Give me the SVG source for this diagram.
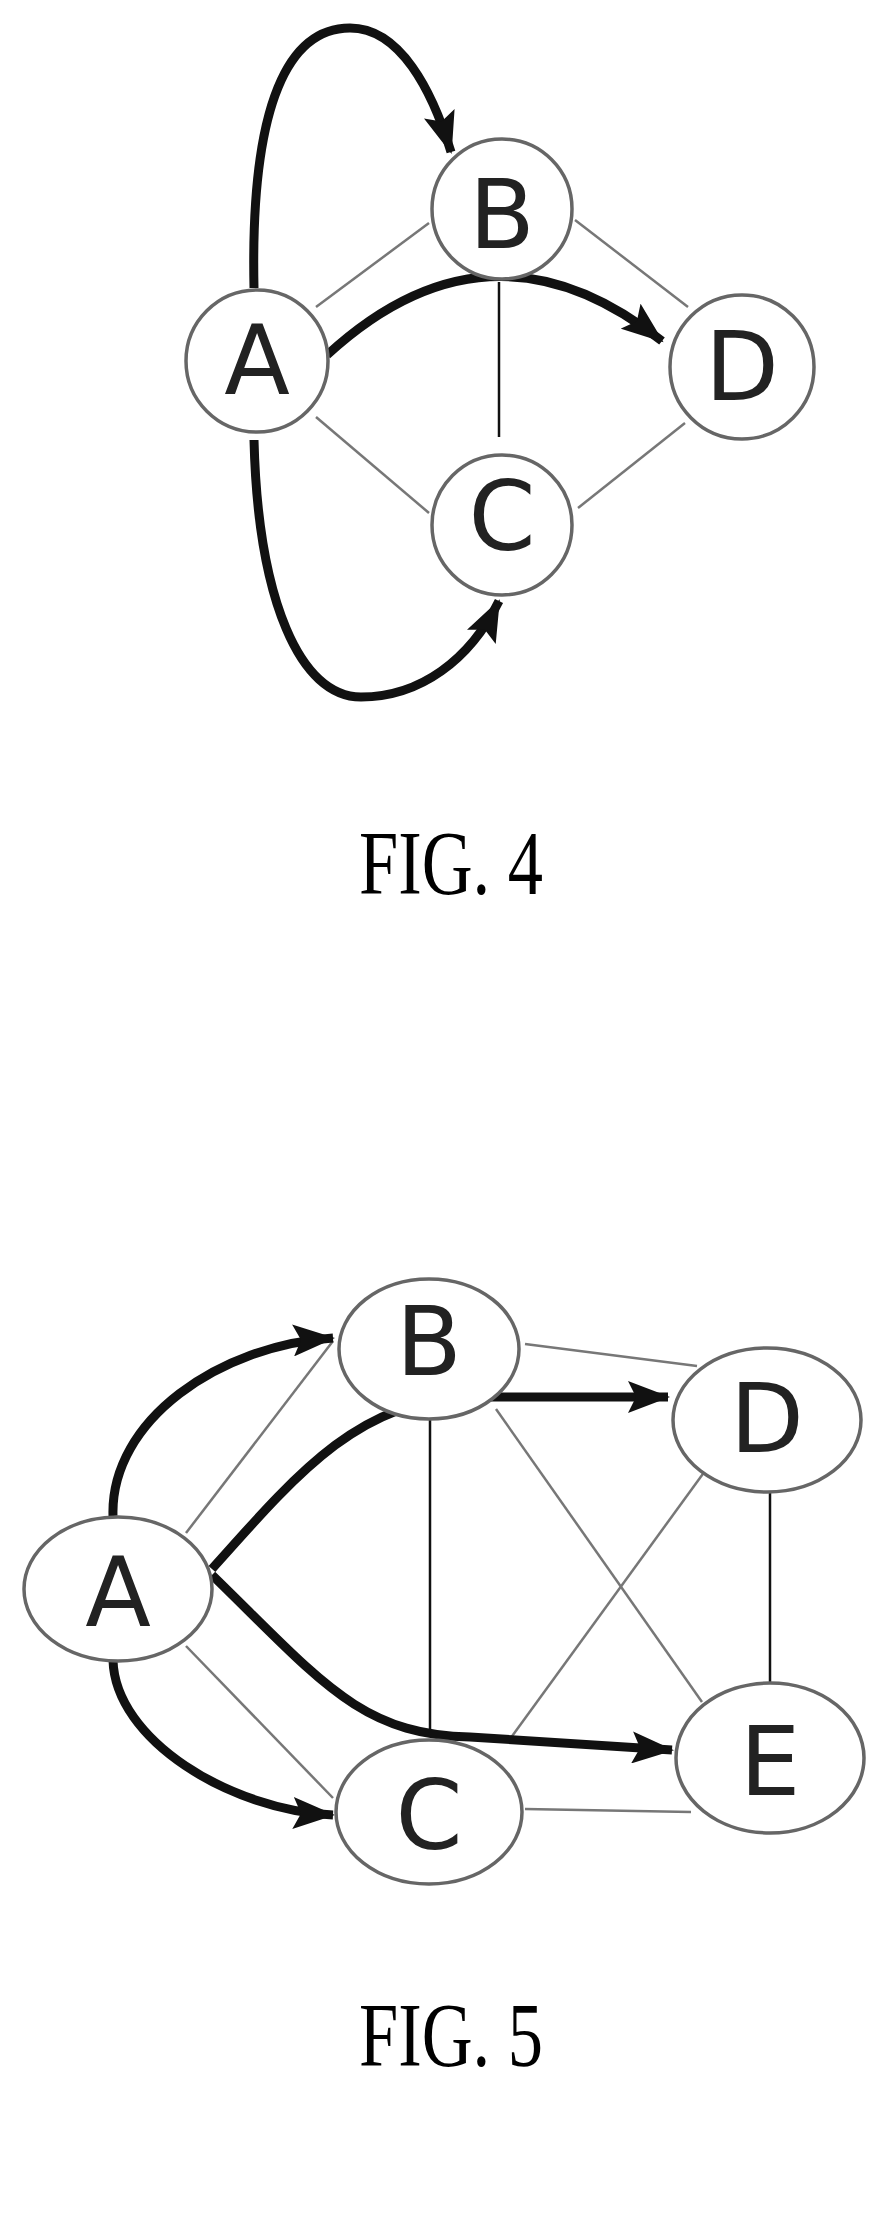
<svg xmlns="http://www.w3.org/2000/svg" width="880" height="2238" viewBox="0 0 880 2238">
<style>
.node{fill:#fff;stroke:#666;stroke-width:3.5}
.lbl{font-family:"DejaVu Sans",sans-serif;font-size:96px;fill:#222;text-anchor:middle}
.thin{stroke:#777;stroke-width:2.5;fill:none}
.dark{stroke:#111;stroke-width:2.5;fill:none}
.thick{stroke:#111;stroke-width:9;fill:none;marker-end:url(#ah)}
.cap{font-family:"Liberation Serif",serif;font-size:90px;fill:#000;text-anchor:middle}
</style>
<defs>
<marker id="ah" markerUnits="userSpaceOnUse" markerWidth="44" markerHeight="32" refX="40" refY="16" orient="auto">
<path d="M0,0 L42,16 L0,32 L8,16 Z" fill="#111"/>
</marker>
</defs>
<rect width="880" height="2238" fill="#fff"/>
<g id="connectors">
<path class="thin" d="M316,307 L429,223"/>
<path class="thin" d="M316,417 L429,513"/>
<path class="thin" d="M575,220 L688,307"/>
<path class="thin" d="M578,508 L685,423"/>
<path class="dark" d="M499,282 L499,437"/>
<path class="thick" d="M254,288 C250,100 290,28 350,28 C400,28 432,90 451,152"/>
<path class="thick" d="M327,355 Q490,205 662,341"/>
<path class="thick" d="M254,440 C258,600 300,697 361,697 C420,697 470,660 499,601"/>
<path class="thin" d="M186,1533 L333,1341"/>
<path class="thin" d="M186,1646 L333,1798"/>
<path class="thin" d="M525,1344 L697,1366"/>
<path class="thin" d="M496,1409 L702,1702"/>
<path class="thin" d="M510,1739 L705,1471"/>
<path class="thin" d="M525,1809 L691,1812"/>
<path class="dark" d="M770,1493 L770,1682"/>
<path class="dark" d="M430,1403 L430,1730"/>
<path class="thick" d="M113,1516 C110,1420 220,1345 333,1338"/>
<path class="thick" d="M113,1660 C115,1740 230,1810 333,1815"/>
<path class="thick" d="M212,1569 C300,1470 360,1400 470,1397 L668,1397"/>
<path class="thick" d="M212,1575 C320,1680 360,1735 470,1737 L672,1750"/>
</g>
<g id="f4A"><circle class="node" cx="257" cy="361" r="71"/><text class="lbl" x="257" y="394">A</text></g>
<g id="f4B"><circle class="node" cx="502" cy="209" r="70"/><text class="lbl" x="502" y="248">B</text></g>
<g id="f4C"><circle class="node" cx="502" cy="525" r="70"/><text class="lbl" x="502" y="550">C</text></g>
<g id="f4D"><circle class="node" cx="742" cy="367" r="72"/><text class="lbl" x="742" y="400">D</text></g>
<text class="cap" x="451" y="894" textLength="184" lengthAdjust="spacingAndGlyphs">FIG. 4</text>
<g id="f5A"><ellipse class="node" cx="118" cy="1589" rx="94" ry="72"/><text class="lbl" x="118" y="1626">A</text></g>
<g id="f5B"><ellipse class="node" cx="429" cy="1349" rx="90" ry="70"/><text class="lbl" x="429" y="1375">B</text></g>
<g id="f5C"><ellipse class="node" cx="429" cy="1812" rx="93" ry="72"/><text class="lbl" x="429" y="1849">C</text></g>
<g id="f5D"><ellipse class="node" cx="767" cy="1420" rx="94" ry="72"/><text class="lbl" x="767" y="1452">D</text></g>
<g id="f5E"><ellipse class="node" cx="770" cy="1758" rx="94" ry="75"/><text class="lbl" x="770" y="1795">E</text></g>
<text class="cap" x="451" y="2066" textLength="184" lengthAdjust="spacingAndGlyphs">FIG. 5</text>
</svg>
